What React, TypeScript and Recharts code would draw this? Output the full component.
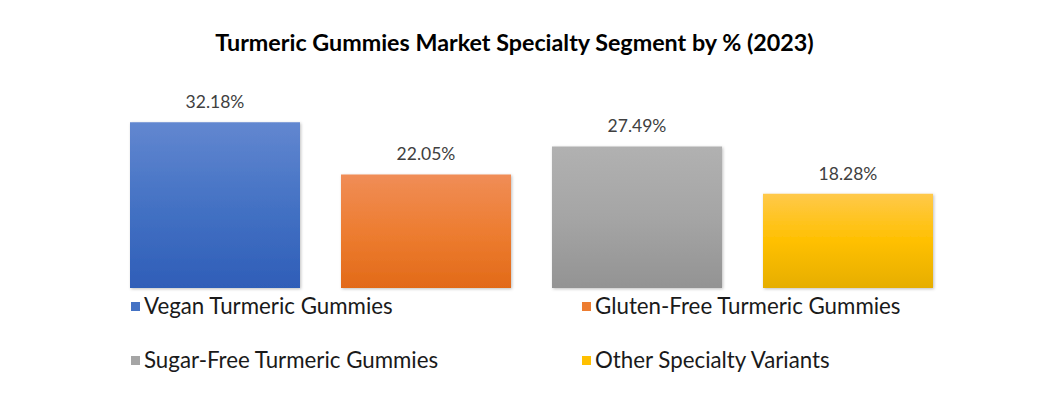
import { BarChart, Bar, XAxis, YAxis, LabelList } from "recharts";

const categories = ["2023"];
const seriesNames = [
  "Vegan Turmeric Gummies",
  "Gluten-Free Turmeric Gummies",
  "Sugar-Free Turmeric Gummies",
  "Other Specialty Variants",
];
const seriesKeys = ["vegan", "glutenFree", "sugarFree", "other"];
const seriesValues = [32.18, 22.05, 27.49, 18.28];

// gradient stops: top, middle, bottom
const gradients = [
  ["#6287d0", "#4472c4", "#2f5eb8"],
  ["#f08d57", "#ed7d31", "#e26a19"],
  ["#b1b1b1", "#a5a5a5", "#939393"],
  ["#ffc94a", "#ffc000", "#e6ae00"],
];
const swatches = ["#4472c4", "#ed7d31", "#a5a5a5", "#ffc000"];

const data = categories.map((c) => {
  const row: Record<string, string | number> = { name: c };
  seriesKeys.forEach((k, i) => {
    row[k] = seriesValues[i];
  });
  return row;
});

const FONT = "Lato, 'Open Sans', sans-serif";

// legend drawn as plain html below the plot, 2 columns x 2 rows
function CustomLegend() {
  const colX = [131, 582];
  const rowY = [306, 360];
  return (
    <>
      {seriesNames.map((name, i) => (
        <div
          key={name}
          style={{
            position: "absolute",
            left: colX[i % 2],
            top: rowY[Math.floor(i / 2)] - 14,
            display: "flex",
            alignItems: "center",
            gap: 4,
            fontFamily: FONT,
            fontSize: 22.3,
            color: "#1a1a1a",
            whiteSpace: "nowrap",
            lineHeight: "28px",
          }}
        >
          <span style={{ width: 9, height: 9, backgroundColor: swatches[i], display: "inline-block" }} />
          {name}
        </div>
      ))}
    </>
  );
}

export default function App() {
  return (
    <div style={{ position: "absolute", left: 0, top: 0, width: 1061, height: 404, background: "#fff" }}>
      <BarChart
        width={1061}
        height={404}
        data={data}
        margin={{ top: 82, right: 86, bottom: 116, left: 88 }}
        barGap={41}
        barSize={170}
      >
        <defs>
          {gradients.map((g, i) => (
            <linearGradient key={i} id={`grad${i}`} x1="0" y1="0" x2="0" y2="1">
              <stop offset="0%" stopColor={g[0]} />
              <stop offset="50%" stopColor={g[1]} />
              <stop offset="100%" stopColor={g[2]} />
            </linearGradient>
          ))}
          <filter id="shadow" x="-5%" y="-5%" width="110%" height="110%">
            <feDropShadow dx="1" dy="1" stdDeviation="1.5" floodColor="#000" floodOpacity="0.25" />
          </filter>
        </defs>
        <XAxis dataKey="name" hide />
        <YAxis hide domain={[0, 40]} />
        {seriesKeys.map((k, i) => (
          <Bar
            key={k}
            dataKey={k}
            name={seriesNames[i]}
            fill={`url(#grad${i})`}
            filter="url(#shadow)"
            isAnimationActive={false}
          >
            <LabelList
              dataKey={k}
              position="top"
              offset={14}
              formatter={(v: number) => `${v.toFixed(2)}%`}
              style={{ fontFamily: FONT, fontSize: 17.5, fill: "#404040" }}
            />
          </Bar>
        ))}
      </BarChart>
      <div
        style={{
          position: "absolute",
          left: -16,
          top: 27,
          width: 1061,
          textAlign: "center",
          fontFamily: FONT,
          fontWeight: 700,
          fontSize: 23.3,
          color: "#000",
          lineHeight: "30px",
        }}
      >
        Turmeric Gummies Market Specialty Segment by % (2023)
      </div>
      <CustomLegend />
    </div>
  );
}
